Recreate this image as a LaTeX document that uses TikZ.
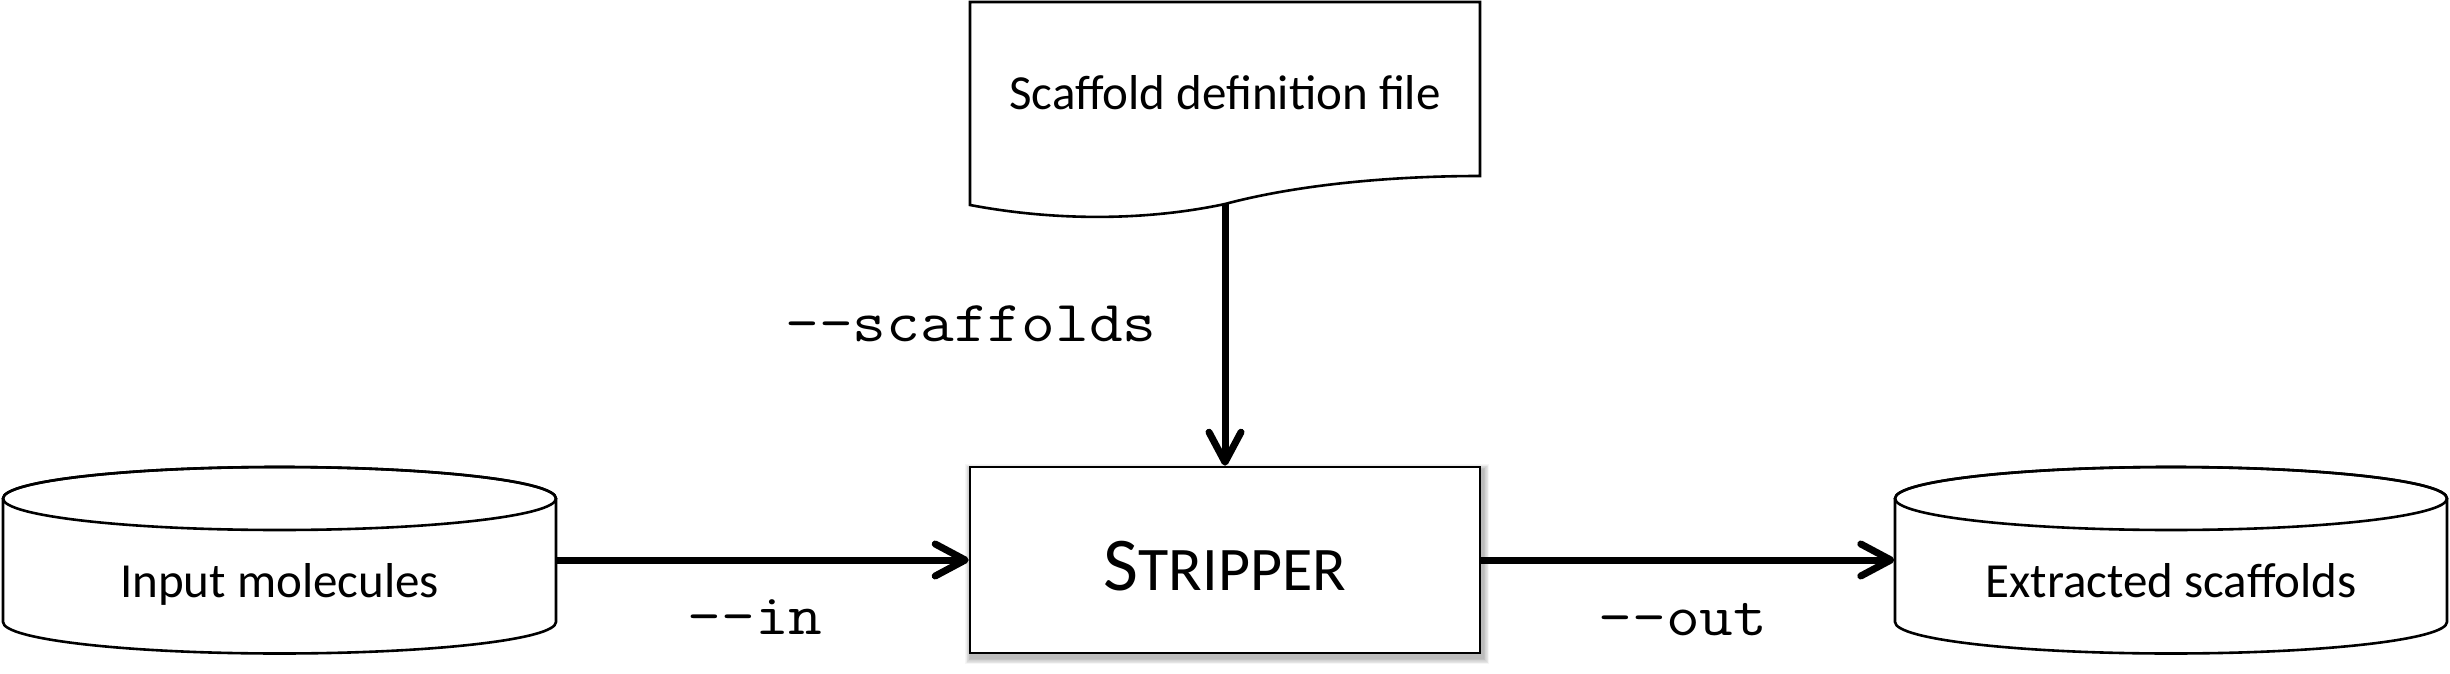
\documentclass[tikz,border=0pt]{standalone}
\usepackage{fontspec}
\setmainfont{Carlito}
\setmonofont[FakeStretch=1.13]{Latin Modern Mono}
\usetikzlibrary{arrows.meta,backgrounds}
\begin{document}
\begin{tikzpicture}[x=1pt,y=-1pt,
  outl/.style={draw=black,line width=2.6pt,line join=miter},
  lbl/.style={font=\fontsize{49}{58}\selectfont, inner sep=0pt},
  opt/.style={font=\ttfamily\fontsize{58}{64}\selectfont, inner sep=0pt, anchor=base},
  conn/.style={line width=7pt, -{Straight Barb[length=30pt,width=32pt,line cap=round,line join=round]}},
  cyl/.style={lbl, minimum width=553pt, minimum height=186pt, text height=74pt, text depth=0pt},
  procbox/.style={outl, fill=white, inner sep=0pt, minimum width=510pt, minimum height=186pt, text height=60pt, text depth=0pt},
  docbox/.style={lbl, minimum width=510pt, minimum height=202pt, text height=14pt, text depth=0pt}
]
\useasboundingbox (0,0) rectangle (2450,674);

% nodes
\node[docbox] (doc) at (1225,103) {Scaffold definition file};
\node[procbox] (box) at (1225,560) {{\fontsize{76}{80}\selectfont S}{\fontsize{62}{66}\selectfont TRIPPER}};
\node[cyl] (in) at (279.5,560) {Input molecules};
\node[cyl] (out) at (2171,560) {Extracted scaffolds};

\begin{scope}[on background layer]
  \fill[white] (0,0) rectangle (2450,674);
  \foreach \r in {1,...,8}
    \fill[black,opacity=0.035] ([shift={(-\r*0.7+2,4-\r*0.7)}]box.north west) rectangle ([shift={(\r*0.7+2,4+\r*0.7)}]box.south east);
  % document shape
  \draw[outl, fill=white] (970,2) -- (1480,2) -- (1480,176)
     .. controls (1395,176) and (1300,184) .. (1225,204)
     .. controls (1150,220) and (1060,222) .. (970,205) -- cycle;
  % input cylinder
  \draw[outl, fill=white] (3,498.5) -- (3,622) arc[start angle=180,end angle=0,x radius=276.5,y radius=31.5] -- (556,498.5) arc[start angle=0,end angle=-180,x radius=276.5,y radius=31.5] -- cycle;
  \draw[outl] (279.5,498.5) ellipse[x radius=276.5, y radius=31.5];
  % output cylinder
  \draw[outl, fill=white] (1895,498.5) -- (1895,622) arc[start angle=180,end angle=0,x radius=276,y radius=31.5] -- (2447,498.5) arc[start angle=0,end angle=-180,x radius=276,y radius=31.5] -- cycle;
  \draw[outl] (2171,498.5) ellipse[x radius=276, y radius=31.5];
\end{scope}

\coordinate (docb) at (1225,204);

% connectors
\draw[conn] (docb) -- (box.north);
\draw[conn] (in.east) -- (box.west);
\draw[conn] (box.east) -- (out.west);

% labels
\node[opt] (lscaf) at (971,341) {-{}-scaffolds};
\node[opt] (lin) at (755,634) {-{}-in};
\node[opt] (lout) at (1683,635) {-{}-out};
\end{tikzpicture}
\end{document}
